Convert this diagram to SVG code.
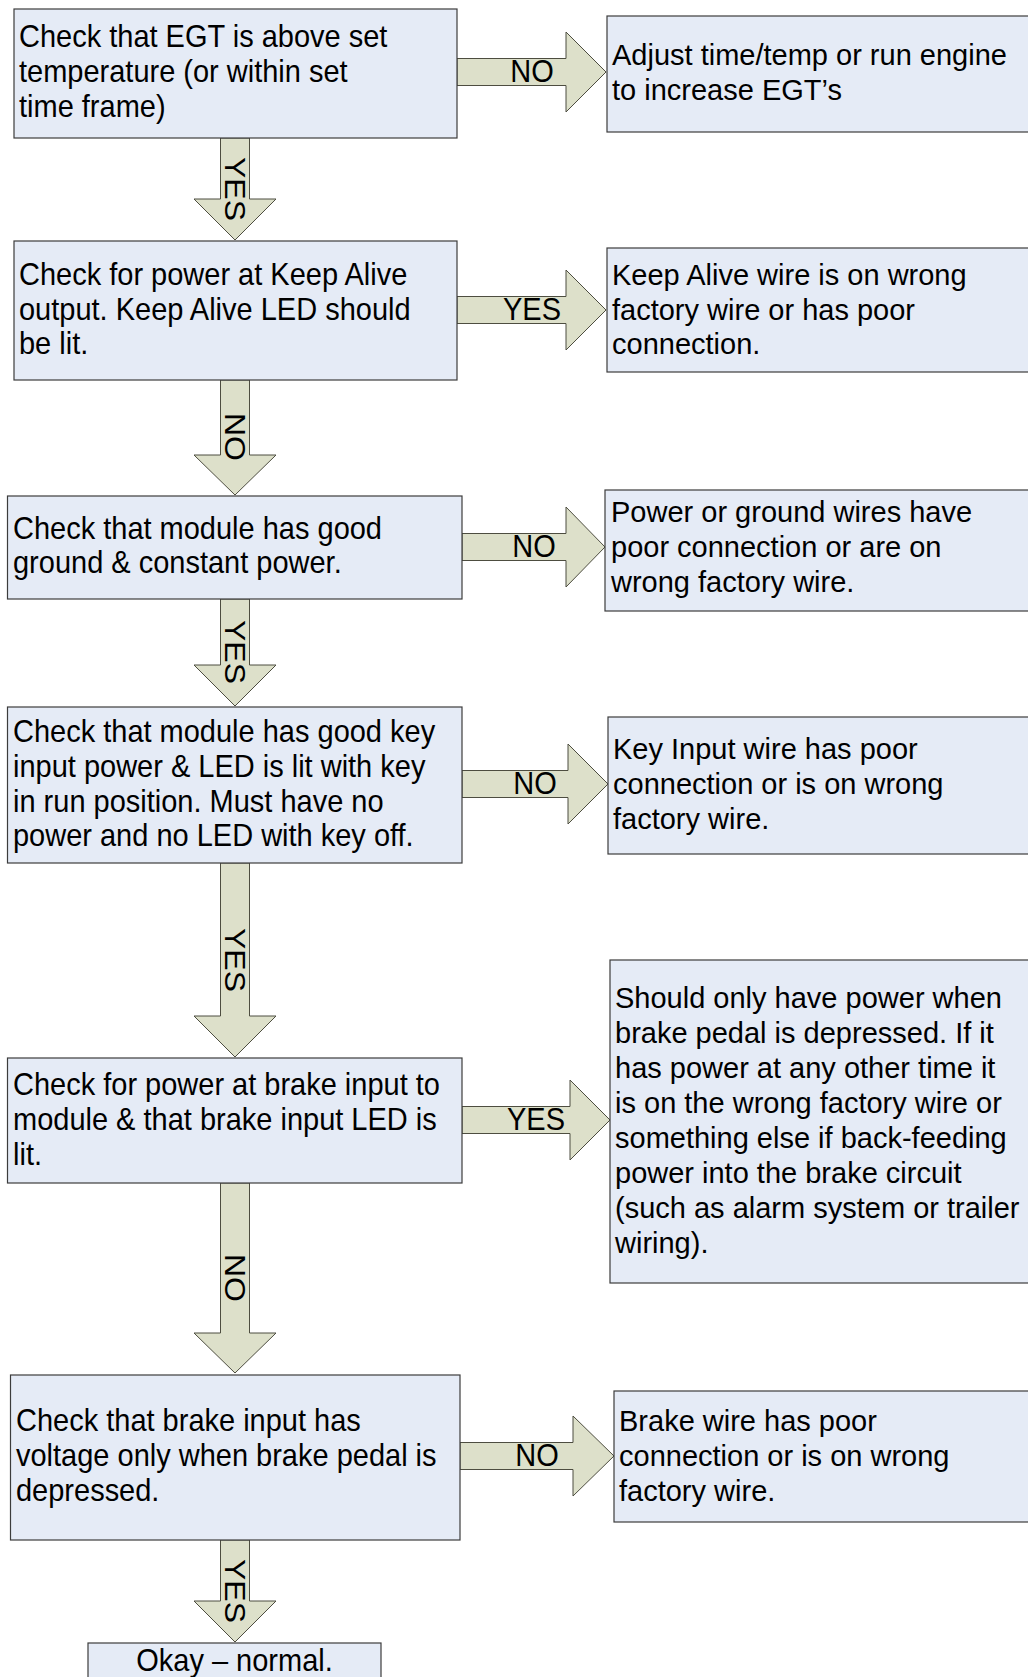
<svg xmlns="http://www.w3.org/2000/svg" width="1028" height="1677" viewBox="0 0 1028 1677">
<style>
.box{fill:#e5ebf6;stroke:#3c3c3c;stroke-width:1.2}
.arr{fill:#dde0ca;stroke:#4d4d40;stroke-width:1}
text{font-family:"Liberation Sans",Arial,sans-serif;font-size:29px;fill:#000}
.c{text-anchor:middle}
</style>
<rect width="1028" height="1677" fill="#fff"/>
<g id="connectors">
  <g id="a1"><polygon class="arr" points="457,58.5 566,58.5 566,32 606,72 566,112 566,85.5 457,85.5"/><text class="c" transform="translate(532,82) scale(1,1.1)">NO</text></g>
  <g id="a2"><polygon class="arr" points="457,296.5 566,296.5 566,270 606,310 566,350 566,323.5 457,323.5"/><text class="c" transform="translate(532,320) scale(1,1.1)">YES</text></g>
  <g id="a3"><polygon class="arr" points="462,533.5 566,533.5 566,507 605,547 566,587 566,560.5 462,560.5"/><text class="c" transform="translate(534,557) scale(1,1.1)">NO</text></g>
  <g id="a4"><polygon class="arr" points="462,770.5 568,770.5 568,744 608,784 568,824 568,797.5 462,797.5"/><text class="c" transform="translate(535,794) scale(1,1.1)">NO</text></g>
  <g id="a5"><polygon class="arr" points="462,1106.5 570,1106.5 570,1080 610,1120 570,1160 570,1133.5 462,1133.5"/><text class="c" transform="translate(536,1130) scale(1,1.1)">YES</text></g>
  <g id="a6"><polygon class="arr" points="460,1442.5 573,1442.5 573,1416 614,1456 573,1496 573,1469.5 460,1469.5"/><text class="c" transform="translate(537,1466) scale(1,1.1)">NO</text></g>

  <g id="v1"><polygon class="arr" points="220.5,138 249.5,138 249.5,199 276,199 235,240 194,199 220.5,199"/><text class="c" transform="translate(225,189) rotate(90) scale(1.1,1)">YES</text></g>
  <g id="v2"><polygon class="arr" points="220.5,380 249.5,380 249.5,455 276,455 235,495 194,455 220.5,455"/><text class="c" transform="translate(225,437) rotate(90) scale(1.1,1)">NO</text></g>
  <g id="v3"><polygon class="arr" points="220.5,599 249.5,599 249.5,665 276,665 235,706 194,665 220.5,665"/><text class="c" transform="translate(225,652) rotate(90) scale(1.1,1)">YES</text></g>
  <g id="v4"><polygon class="arr" points="220.5,863 249.5,863 249.5,1016 276,1016 235,1057 194,1016 220.5,1016"/><text class="c" transform="translate(225,960) rotate(90) scale(1.1,1)">YES</text></g>
  <g id="v5"><polygon class="arr" points="220.5,1183 249.5,1183 249.5,1333 276,1333 235,1373 194,1333 220.5,1333"/><text class="c" transform="translate(225,1278) rotate(90) scale(1.1,1)">NO</text></g>
  <g id="v6"><polygon class="arr" points="220.5,1540 249.5,1540 249.5,1601 276,1601 235,1642 194,1601 220.5,1601"/><text class="c" transform="translate(225,1591) rotate(90) scale(1.1,1)">YES</text></g>
</g>

<g id="n1"><rect class="box" x="14" y="9" width="443" height="129"/>
  <text transform="translate(19,47) scale(1,1.1)">Check that EGT is above set</text>
  <text transform="translate(19,82) scale(1,1.1)">temperature (or within set</text>
  <text transform="translate(19,117) scale(1,1.1)">time frame)</text></g>
<g id="r1"><rect class="box" x="607" y="16" width="425" height="116"/>
  <text x="612" y="65">Adjust time/temp or run engine</text>
  <text x="612" y="100">to increase EGT’s</text></g>

<g id="n2"><rect class="box" x="14" y="241" width="443" height="139"/>
  <text transform="translate(19,285) scale(1,1.1)">Check for power at Keep Alive</text>
  <text transform="translate(19,320) scale(1,1.1)">output. Keep Alive LED should</text>
  <text transform="translate(19,354) scale(1,1.1)">be lit.</text></g>
<g id="r2"><rect class="box" x="607" y="248" width="425" height="124"/>
  <text x="612" y="285">Keep Alive wire is on wrong</text>
  <text x="612" y="320">factory wire or has poor</text>
  <text x="612" y="354">connection.</text></g>

<g id="n3"><rect class="box" x="7.5" y="496" width="454.5" height="103"/>
  <text transform="translate(13,539) scale(1,1.1)">Check that module has good</text>
  <text transform="translate(13,573) scale(1,1.1)">ground &amp; constant power.</text></g>
<g id="r3"><rect class="box" x="605" y="490" width="427" height="121"/>
  <text x="611" y="522">Power or ground wires have</text>
  <text x="611" y="557">poor connection or are on</text>
  <text x="611" y="592">wrong factory wire.</text></g>

<g id="n4"><rect class="box" x="7.5" y="707" width="454.5" height="156"/>
  <text transform="translate(13,742) scale(1,1.1)">Check that module has good key</text>
  <text transform="translate(13,777) scale(1,1.1)">input power &amp; LED is lit with key</text>
  <text transform="translate(13,812) scale(1,1.1)">in run position. Must have no</text>
  <text transform="translate(13,846) scale(1,1.1)">power and no LED with key off.</text></g>
<g id="r4"><rect class="box" x="608" y="717" width="424" height="137"/>
  <text x="613" y="759">Key Input wire has poor</text>
  <text x="613" y="794">connection or is on wrong</text>
  <text x="613" y="829">factory wire.</text></g>

<g id="n5"><rect class="box" x="7.5" y="1058" width="454.5" height="125"/>
  <text transform="translate(13,1095) scale(1,1.1)">Check for power at brake input to</text>
  <text transform="translate(13,1130) scale(1,1.1)">module &amp; that brake input LED is</text>
  <text transform="translate(13,1165) scale(1,1.1)">lit.</text></g>
<g id="r5"><rect class="box" x="610" y="960" width="422" height="323"/>
  <text x="615" y="1008">Should only have power when</text>
  <text x="615" y="1043">brake pedal is depressed. If it</text>
  <text x="615" y="1078">has power at any other time it</text>
  <text x="615" y="1113">is on the wrong factory wire or</text>
  <text x="615" y="1148">something else if back-feeding</text>
  <text x="615" y="1183">power into the brake circuit</text>
  <text x="615" y="1218">(such as alarm system or trailer</text>
  <text x="615" y="1253">wiring).</text></g>

<g id="n6"><rect class="box" x="10.5" y="1375" width="449.5" height="165"/>
  <text transform="translate(16,1431) scale(1,1.1)">Check that brake input has</text>
  <text transform="translate(16,1466) scale(1,1.1)">voltage only when brake pedal is</text>
  <text transform="translate(16,1501) scale(1,1.1)">depressed.</text></g>
<g id="r6"><rect class="box" x="614" y="1391" width="418" height="131"/>
  <text x="619" y="1431">Brake wire has poor</text>
  <text x="619" y="1466">connection or is on wrong</text>
  <text x="619" y="1501">factory wire.</text></g>

<g id="n7"><rect class="box" x="88" y="1643" width="293" height="40"/>
  <text class="c" transform="translate(234.5,1671) scale(1,1.1)">Okay – normal.</text></g>
</svg>
